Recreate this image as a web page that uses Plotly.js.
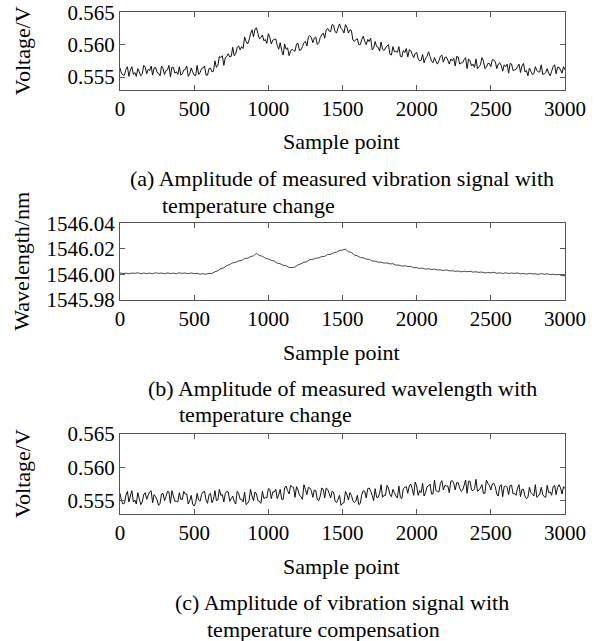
<!DOCTYPE html>
<html>
<head>
<meta charset="utf-8">
<script src="https://cdn.plot.ly/plotly-3.0.1.min.js"></script>
<style>html,body{margin:0;padding:0;background:#fff;}#chart{width:601px;height:641px;}</style>
</head>
<body>
<div id="chart"></div>
<script>
// Sample spacing of the read-off points
const sampleStart = 0;
const voltStep = 10;   // (a) and (c): every 10 samples, 0..3000
const waveStep = 20;   // (b): every 20 samples, 0..3000
const xTicks = [0, 500, 1000, 1500, 2000, 2500, 3000];

// (a) measured vibration amplitude (V)
const voltageMeasured = [
0.5564,0.5556,0.5553,0.5553,0.5562,0.5566,0.5551,0.5561,0.5566,0.5554,0.5557,0.5551,0.5563,0.5558,0.5552,0.5555,0.5568,0.5565,0.5555,0.5562,
0.5560,0.5567,0.5553,0.5564,0.5565,0.5557,0.5556,0.5552,0.5567,0.5563,0.5554,0.5560,0.5561,0.5568,0.5550,0.5565,0.5565,0.5556,0.5558,0.5554,
0.5566,0.5553,0.5555,0.5561,0.5562,0.5567,0.5551,0.5555,0.5564,0.5558,0.5553,0.5552,0.5568,0.5554,0.5557,0.5563,0.5564,0.5567,0.5553,0.5553,
0.5563,0.5564,0.5558,0.5559,0.5575,0.5565,0.5568,0.5582,0.5580,0.5583,0.5568,0.5580,0.5582,0.5586,0.5581,0.5582,0.5596,0.5583,0.5586,0.5596,
0.5598,0.5592,0.5597,0.5594,0.5612,0.5605,0.5601,0.5607,0.5617,0.5623,0.5612,0.5624,0.5626,0.5617,0.5609,0.5611,0.5615,0.5606,0.5608,0.5602,
0.5617,0.5611,0.5601,0.5607,0.5608,0.5609,0.5599,0.5593,0.5603,0.5591,0.5584,0.5601,0.5593,0.5595,0.5583,0.5590,0.5593,0.5591,0.5590,0.5601,
0.5602,0.5591,0.5592,0.5597,0.5603,0.5605,0.5598,0.5612,0.5614,0.5611,0.5603,0.5610,0.5612,0.5600,0.5603,0.5611,0.5615,0.5618,0.5610,0.5623,
0.5625,0.5621,0.5620,0.5631,0.5630,0.5620,0.5618,0.5626,0.5632,0.5625,0.5623,0.5618,0.5631,0.5627,0.5618,0.5623,0.5622,0.5607,0.5605,0.5608,
0.5609,0.5600,0.5600,0.5608,0.5613,0.5605,0.5600,0.5608,0.5605,0.5610,0.5592,0.5595,0.5605,0.5597,0.5596,0.5590,0.5604,0.5593,0.5591,0.5595,
0.5598,0.5600,0.5585,0.5584,0.5597,0.5589,0.5590,0.5588,0.5597,0.5582,0.5581,0.5591,0.5588,0.5594,0.5581,0.5592,0.5591,0.5585,0.5580,0.5586,
0.5588,0.5578,0.5575,0.5576,0.5585,0.5572,0.5579,0.5582,0.5589,0.5582,0.5575,0.5572,0.5580,0.5574,0.5570,0.5575,0.5582,0.5584,0.5573,0.5580,
0.5581,0.5576,0.5570,0.5578,0.5575,0.5579,0.5567,0.5582,0.5581,0.5570,0.5572,0.5572,0.5577,0.5580,0.5563,0.5578,0.5575,0.5567,0.5570,0.5565,
0.5578,0.5563,0.5566,0.5569,0.5580,0.5575,0.5563,0.5565,0.5571,0.5571,0.5566,0.5577,0.5576,0.5574,0.5563,0.5570,0.5572,0.5568,0.5559,0.5569,
0.5566,0.5570,0.5556,0.5571,0.5570,0.5560,0.5561,0.5562,0.5566,0.5570,0.5557,0.5567,0.5571,0.5558,0.5560,0.5552,0.5564,0.5559,0.5554,0.5555,
0.5566,0.5560,0.5558,0.5558,0.5569,0.5554,0.5555,0.5557,0.5563,0.5556,0.5552,0.5559,0.5566,0.5569,0.5555,0.5565,0.5565,0.5561,0.5556,0.5566,
0.5561
];

// (b) measured wavelength (nm)
const wavelength = [
1546.0012,1546.0007,1546.0010,1546.0005,1546.0011,1546.0008,1546.0013,1546.0006,1546.0011,1546.0007,
1546.0010,1546.0006,1546.0013,1546.0008,1546.0011,1546.0005,1546.0012,1546.0007,1546.0010,1546.0006,
1546.0013,1546.0008,1546.0011,1546.0006,1546.0012,1546.0006,1546.0008,1546.0002,1546.0006,1546.0002,
1546.0008,1546.0008,1546.0021,1546.0028,1546.0046,1546.0052,1546.0070,1546.0077,1546.0091,1546.0094,
1546.0106,1546.0109,1546.0124,1546.0127,1546.0139,1546.0146,1546.0165,1546.0148,1546.0142,1546.0127,
1546.0121,1546.0110,1546.0105,1546.0088,1546.0084,1546.0071,1546.0068,1546.0054,1546.0054,1546.0058,
1546.0075,1546.0083,1546.0096,1546.0100,1546.0116,1546.0118,1546.0127,1546.0129,1546.0140,1546.0141,
1546.0156,1546.0157,1546.0169,1546.0174,1546.0187,1546.0191,1546.0198,1546.0178,1546.0171,1546.0153,
1546.0146,1546.0132,1546.0131,1546.0120,1546.0118,1546.0105,1546.0104,1546.0096,1546.0096,1546.0089,
1546.0090,1546.0082,1546.0084,1546.0073,1546.0073,1546.0065,1546.0068,1546.0062,1546.0063,1546.0053,
1546.0053,1546.0047,1546.0049,1546.0041,1546.0045,1546.0038,1546.0042,1546.0035,1546.0036,1546.0030,
1546.0036,1546.0028,1546.0029,1546.0024,1546.0027,1546.0020,1546.0026,1546.0021,1546.0025,1546.0018,
1546.0021,1546.0016,1546.0019,1546.0011,1546.0015,1546.0012,1546.0017,1546.0009,1546.0013,1546.0007,
1546.0013,1546.0007,1546.0011,1546.0008,1546.0012,1546.0005,1546.0007,1546.0002,1546.0008,1546.0004,
1546.0005,1546.0000,1546.0007,1546.0001,1546.0005,1545.9999,1546.0002,1545.9997,1546.0000,1545.9990,
1545.9990
];

// (c) vibration amplitude with temperature compensation (V)
const voltageCompensated = [
0.5561,0.5550,0.5545,0.5546,0.5558,0.5564,0.5548,0.5557,0.5565,0.5548,0.5551,0.5545,0.5562,0.5553,0.5544,0.5548,0.5559,0.5562,0.5552,0.5558,
0.5563,0.5565,0.5547,0.5559,0.5556,0.5551,0.5543,0.5546,0.5560,0.5561,0.5550,0.5556,0.5564,0.5563,0.5546,0.5565,0.5557,0.5549,0.5549,0.5548,
0.5562,0.5552,0.5552,0.5564,0.5560,0.5560,0.5545,0.5550,0.5558,0.5545,0.5542,0.5547,0.5561,0.5551,0.5549,0.5559,0.5563,0.5564,0.5551,0.5546,
0.5559,0.5561,0.5547,0.5552,0.5565,0.5550,0.5551,0.5567,0.5558,0.5559,0.5548,0.5561,0.5564,0.5563,0.5549,0.5553,0.5557,0.5549,0.5545,0.5564,
0.5561,0.5552,0.5552,0.5548,0.5563,0.5544,0.5546,0.5550,0.5567,0.5557,0.5550,0.5563,0.5560,0.5550,0.5549,0.5546,0.5564,0.5553,0.5555,0.5554,
0.5568,0.5567,0.5553,0.5563,0.5563,0.5567,0.5553,0.5559,0.5567,0.5552,0.5552,0.5569,0.5572,0.5565,0.5560,0.5573,0.5571,0.5570,0.5555,0.5571,
0.5566,0.5558,0.5556,0.5552,0.5574,0.5567,0.5559,0.5570,0.5569,0.5565,0.5555,0.5566,0.5565,0.5552,0.5550,0.5557,0.5569,0.5567,0.5554,0.5569,
0.5567,0.5561,0.5554,0.5564,0.5563,0.5549,0.5547,0.5552,0.5558,0.5543,0.5546,0.5547,0.5564,0.5559,0.5551,0.5562,0.5558,0.5550,0.5547,0.5549,
0.5558,0.5544,0.5546,0.5559,0.5565,0.5564,0.5554,0.5568,0.5569,0.5564,0.5558,0.5550,0.5568,0.5555,0.5555,0.5561,0.5574,0.5555,0.5558,0.5558,
0.5573,0.5569,0.5559,0.5556,0.5567,0.5562,0.5557,0.5554,0.5572,0.5555,0.5553,0.5568,0.5570,0.5571,0.5561,0.5572,0.5575,0.5568,0.5558,0.5578,
0.5572,0.5558,0.5565,0.5562,0.5576,0.5557,0.5562,0.5571,0.5572,0.5575,0.5560,0.5560,0.5581,0.5565,0.5564,0.5563,0.5576,0.5580,0.5566,0.5573,
0.5572,0.5572,0.5562,0.5579,0.5580,0.5576,0.5566,0.5577,0.5577,0.5569,0.5564,0.5566,0.5573,0.5581,0.5561,0.5579,0.5579,0.5566,0.5565,0.5568,
0.5582,0.5564,0.5566,0.5569,0.5574,0.5561,0.5561,0.5581,0.5576,0.5573,0.5566,0.5575,0.5576,0.5571,0.5560,0.5557,0.5571,0.5574,0.5556,0.5571,
0.5572,0.5570,0.5559,0.5573,0.5573,0.5560,0.5561,0.5558,0.5569,0.5574,0.5556,0.5567,0.5567,0.5557,0.5553,0.5555,0.5570,0.5562,0.5560,0.5557,
0.5574,0.5555,0.5557,0.5560,0.5570,0.5559,0.5556,0.5555,0.5573,0.5562,0.5563,0.5558,0.5571,0.5573,0.5559,0.5570,0.5574,0.5569,0.5560,0.5571,
0.5568
];

const voltTicks = [0.555, 0.560, 0.565];
const waveTicks = [1545.98, 1546.00, 1546.02, 1546.04];

const W = 601, H = 641;
const FONT = 'Liberation Serif, Times New Roman, serif';
const px2x = p => p / W;
const px2y = p => 1 - p / H;

// plot boxes in pixels: [top, bottom]
const boxes = [[12.3, 90], [223.3, 300], [434, 514]];
const xL = 120, xR = 565;

function xAx(anchor) {
  return {
    domain: [px2x(xL), px2x(xR)], anchor: anchor, range: [0, 3000],
    tickvals: xTicks, ticks: 'inside', ticklen: 5, tickcolor: '#555',
    showline: true, linecolor: '#555', linewidth: 1, mirror: 'ticks',
    showgrid: false, zeroline: false,
    tickfont: {family: FONT, size: 21, color: '#000'}
  };
}
function yAx(anchor, box, range, vals, fmt) {
  return {
    domain: [px2y(box[1]), px2y(box[0])], anchor: anchor, range: range,
    tickvals: vals, tickformat: fmt, ticks: 'inside', ticklen: 5, tickcolor: '#555',
    showline: true, linecolor: '#555', linewidth: 1, mirror: 'ticks',
    showgrid: false, zeroline: false,
    tickfont: {family: FONT, size: 21, color: '#000'}
  };
}

const lineStyle = {color: '#111', width: 1, simplify: false};
const traces = [
  {x0: sampleStart, dx: voltStep, y: voltageMeasured, type: 'scatter', mode: 'lines', line: lineStyle, xaxis: 'x', yaxis: 'y', hoverinfo: 'skip'},
  {x0: sampleStart, dx: waveStep, y: wavelength, type: 'scatter', mode: 'lines', line: {color: '#1a1a1a', width: 0.8, simplify: false}, xaxis: 'x2', yaxis: 'y2', hoverinfo: 'skip'},
  {x0: sampleStart, dx: voltStep, y: voltageCompensated, type: 'scatter', mode: 'lines', line: lineStyle, xaxis: 'x3', yaxis: 'y3', hoverinfo: 'skip'}
];

function ann(text, xpx, ypx, opts) {
  return Object.assign({
    text: text, xref: 'paper', yref: 'paper', x: px2x(xpx), y: px2y(ypx),
    xanchor: 'center', yanchor: 'middle', showarrow: false,
    font: {family: FONT, size: 22, color: '#000'}
  }, opts || {});
}

const annotations = [];
const yTitles = ['Voltage/V', 'Wavelength/nm', 'Voltage/V'];
const cap1 = ['(a) Amplitude of measured vibration signal with', '(b) Amplitude of measured wavelength with', '(c) Amplitude of vibration signal with'];
const cap2 = ['temperature change', 'temperature change', 'temperature compensation'];
const capW = [425, 390, 335];
boxes.forEach((b, i) => {
  const mid = (b[0] + b[1]) / 2;
  annotations.push(ann(yTitles[i], 22, mid, {textangle: -90}));
  annotations.push(ann('Sample point', 341, b[1] + 52));
  annotations.push(ann(cap1[i], 342, b[1] + 88));
  annotations.push(ann(cap2[i], 342 - capW[i] / 2 + 30, b[1] + 115, {xanchor: 'left'}));
});

const layout = {
  width: W, height: H, margin: {l: 0, r: 0, t: 0, b: 0},
  paper_bgcolor: '#fff', plot_bgcolor: '#fff', showlegend: false,
  font: {family: FONT, size: 21, color: '#000'},
  xaxis: xAx('y'), xaxis2: xAx('y2'), xaxis3: xAx('y3'),
  yaxis: yAx('x', boxes[0], [0.553, 0.565], voltTicks, '.3f'),
  yaxis2: yAx('x2', boxes[1], [1545.98, 1546.04], waveTicks, '.2f'),
  yaxis3: yAx('x3', boxes[2], [0.553, 0.565], voltTicks, '.3f'),
  annotations: annotations
};

Plotly.newPlot('chart', traces, layout, {staticPlot: true, displayModeBar: false});
</script>
</body>
</html>
